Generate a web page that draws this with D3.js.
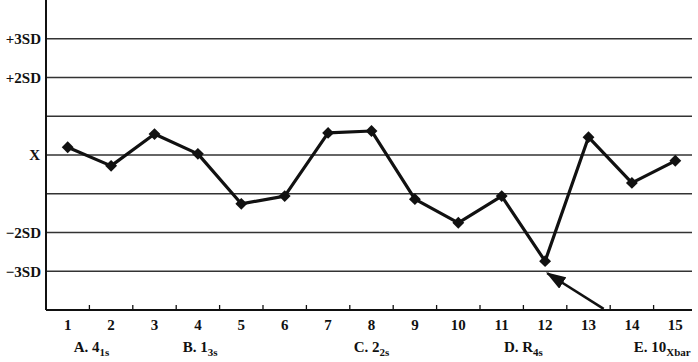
<!DOCTYPE html>
<html>
<head>
<meta charset="utf-8">
<script src="https://cdn.jsdelivr.net/npm/d3@7"></script>
<style>
  body { margin: 0; background: #fff; }
  text { font-family: "Liberation Serif", "DejaVu Serif", serif; font-weight: bold; fill: #111; }
</style>
</head>
<body>
<svg id="chart" width="698" height="362"></svg>
<script>
// runs 1..15, values in SD units from the mean
var runs = d3.range(1, 16);
var values = [0.2, -0.28, 0.54, 0.03, -1.26, -1.06, 0.57, 0.62, -1.14, -1.75, -1.06, -2.74, 0.46, -0.72, -0.15];

var gridLevels = [3, 2, 1, 0, -1, -2, -3];
var yLabels = [
    { v: 3, t: "+3SD" },
    { v: 2, t: "+2SD" },
    { v: 0, t: "X" },
    { v: -2, t: "\u22122SD" },
    { v: -3, t: "\u22123SD" }
];

// rule captions under the axis: position in run units, main text, subscript
var rules = [
    { at: 1.55, main: "A. 4", sub: "1s" },
    { at: 4.05, main: "B. 1", sub: "3s" },
    { at: 8.0, main: "C. 2", sub: "2s" },
    { at: 11.5, main: "D. R", sub: "4s" },
    { at: 14.7, main: "E. 10", sub: "Xbar" }
];

// arrow pointing at run 12
var arrow = { from: [13.35, -3.97], to: [12.05, -3.05] };

var svg = d3.select("#chart");
var padL = 46, padR = 697, padT = 0, padB = 310;

var x = d3.scaleBand().domain(runs).range([padL, padR]);
var xl = d3.scaleLinear().domain([1, 15]).range([x(1) + x.bandwidth() / 2, x(15) + x.bandwidth() / 2]);
var y = d3.scaleLinear().domain([-4, 4]).range([padB, padT]);

var defs = svg.append("defs");
defs.append("marker")
    .attr("id", "head")
    .attr("viewBox", "0 -4 12 8")
    .attr("refX", 11)
    .attr("refY", 0)
    .attr("markerWidth", 8)
    .attr("markerHeight", 5.4)
    .attr("orient", "auto")
    .append("path")
    .attr("d", "M0,-4L12,0L0,4Z")
    .attr("fill", "#111");

// gridlines
svg.append("g")
    .selectAll("line")
    .data(gridLevels)
    .enter().append("line")
    .attr("x1", padL)
    .attr("x2", 692)
    .attr("y1", function (d) { return y(d); })
    .attr("y2", function (d) { return y(d); })
    .attr("stroke", "#333")
    .attr("stroke-width", 1.6);

// y labels
svg.append("g")
    .selectAll("text")
    .data(yLabels)
    .enter().append("text")
    .attr("x", function (d) { return d.t == "X" ? 40 : 41; })
    .attr("y", function (d) { return y(d.v); })
    .attr("dy", "0.35em")
    .attr("text-anchor", "end")
    .attr("font-size", "15px")
    .text(function (d) { return d.t; });

// left axis line
svg.append("line")
    .attr("x1", padL).attr("x2", padL)
    .attr("y1", padT).attr("y2", padB)
    .attr("stroke", "#111")
    .attr("stroke-width", 2);

// bottom axis
var xAxis = d3.axisBottom(x).tickSize(0).tickPadding(9);
var ax = svg.append("g")
    .attr("transform", "translate(0," + padB + ")")
    .call(xAxis);
ax.select(".domain").attr("stroke", "#111").attr("stroke-width", 2).attr("d", "M" + padL + ",0H692");
ax.selectAll("text")
    .attr("font-size", "15px")
    .attr("font-family", "Liberation Serif, serif")
    .attr("font-weight", "bold")
    .attr("fill", "#111");

// small tick marks between runs
svg.append("g")
    .selectAll("line")
    .data(runs.slice(1))
    .enter().append("line")
    .attr("x1", function (d) { return x(d); })
    .attr("x2", function (d) { return x(d); })
    .attr("y1", padB)
    .attr("y2", padB - 5)
    .attr("stroke", "#111")
    .attr("stroke-width", 1.3);

// data line
var line = d3.line()
    .x(function (d, i) { return x(runs[i]) + x.bandwidth() / 2; })
    .y(function (d) { return y(d); });

svg.append("path")
    .datum(values)
    .attr("d", line)
    .attr("fill", "none")
    .attr("stroke", "#111")
    .attr("stroke-width", 3.2)
    .attr("stroke-linejoin", "round");

// diamond markers
svg.append("g")
    .selectAll("path")
    .data(values)
    .enter().append("path")
    .attr("d", d3.symbol().type(d3.symbolDiamond2).size(90))
    .attr("transform", function (d, i) {
        return "translate(" + (x(runs[i]) + x.bandwidth() / 2) + "," + y(d) + ")";
    })
    .attr("fill", "#111");

// arrow
svg.append("line")
    .attr("x1", xl(arrow.from[0]))
    .attr("y1", y(arrow.from[1]))
    .attr("x2", xl(arrow.to[0]))
    .attr("y2", y(arrow.to[1]))
    .attr("stroke", "#111")
    .attr("stroke-width", 2.5)
    .attr("marker-end", "url(#head)");

// rule captions
var cap = svg.append("g")
    .selectAll("text")
    .data(rules)
    .enter().append("text")
    .attr("x", function (d) { return xl(d.at); })
    .attr("y", 352)
    .attr("text-anchor", "middle")
    .attr("font-size", "15px");
cap.append("tspan").text(function (d) { return d.main; });
cap.append("tspan")
    .attr("dy", 4)
    .attr("font-size", "11px")
    .text(function (d) { return d.sub; });
</script>
</body>
</html>
